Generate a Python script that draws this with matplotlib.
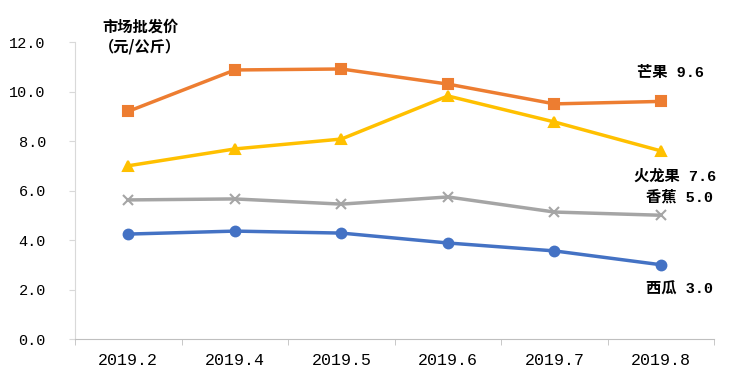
import matplotlib
matplotlib.use("Agg")
import matplotlib.pyplot as plt

plt.rcParams['font.family'] = ['Noto Sans CJK SC', 'DejaVu Sans']

months = ["2019.2", "2019.4", "2019.5", "2019.6", "2019.7", "2019.8"]
mango = [9.2, 10.87, 10.91, 10.3, 9.5, 9.6]
dragon = [7.0, 7.68, 8.08, 9.82, 8.77, 7.6]
banana = [5.62, 5.66, 5.45, 5.74, 5.13, 5.0]
watermelon = [4.24, 4.36, 4.28, 3.88, 3.56, 3.0]
names = ["芒果", "火龙果", "香蕉", "西瓜"]
yticks = [0, 2, 4, 6, 8, 10, 12]

mono = ['Liberation Mono', 'Noto Sans CJK SC']

fig = plt.figure(figsize=(7.51, 3.89), dpi=100)
ax = fig.add_axes([0.1, 0.1285, 0.851, 0.7635])
x = list(range(len(months)))

series = [
    (mango, "#ED7D31", "s", 7),
    (dragon, "#FFC000", "^", 7),
    (banana, "#A5A5A5", "x", 7),
    (watermelon, "#4472C4", "o", 7),
]
for vals, col, mk, ms in series:
    ax.plot(x, vals, color=col, lw=2.5, marker=mk, ms=ms, mew=1.5,
            mfc=col, mec=col, zorder=3)

ax.set_xlim(-0.5, len(months) - 0.5)
ax.set_ylim(0, 12)
ax.set_yticks(yticks)
ax.set_yticklabels([f"{v:.1f}" for v in yticks], family=mono, fontsize=11)
ax.set_xticks(x)
ax.set_xticklabels(months, family=mono, fontsize=12)
ax.set_xticks([i - 0.5 for i in range(len(months) + 1)], minor=True)
ax.tick_params(axis='x', which='major', length=0, pad=10)
ax.tick_params(axis='x', which='minor', length=4, color='#BFBFBF')
ax.tick_params(axis='y', length=4, color='#D9D9D9', pad=17)
for s in ['top', 'right']:
    ax.spines[s].set_visible(False)
ax.spines['bottom'].set_color('#BFBFBF')
ax.spines['left'].set_color('#D9D9D9')

fig.text(0.187, 0.905, "市场批发价\n（元/公斤）", ha='center', va='center',
         fontsize=11, fontweight='bold', linespacing=1.3)

labels = [
    (f"{names[0]} {mango[-1]:.1f}", 0.893, 0.812),
    (f"{names[1]} {dragon[-1]:.1f}", 0.899, 0.545),
    (f"{names[2]} {banana[-1]:.1f}", 0.905, 0.493),
    (f"{names[3]} {watermelon[-1]:.1f}", 0.905, 0.257),
]
for t, fx, fy in labels:
    fig.text(fx, fy, t, ha='center', va='center', fontsize=11,
             fontweight='bold', family=mono)

fig.savefig("out.png", dpi=100)
